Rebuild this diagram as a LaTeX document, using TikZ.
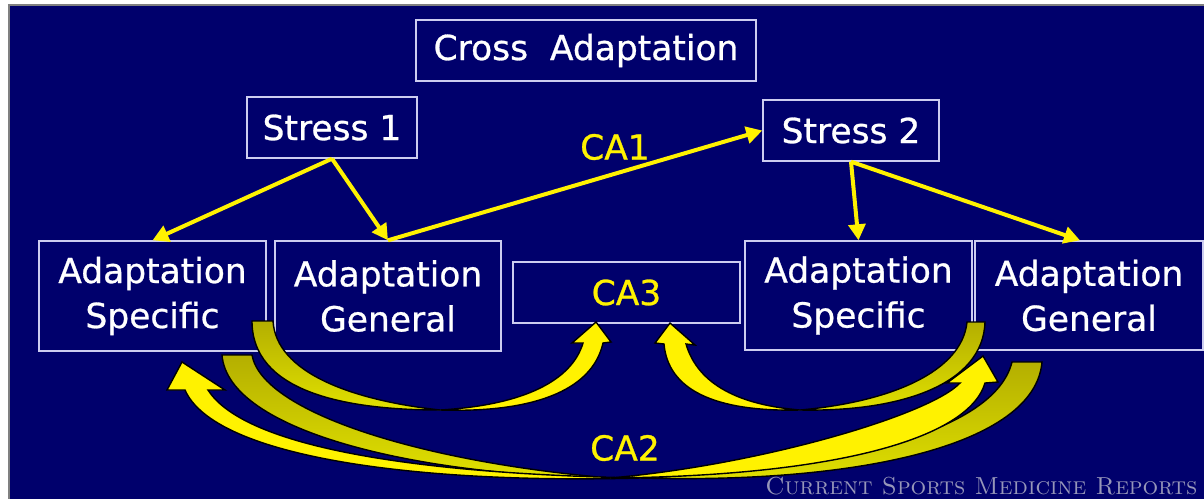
\documentclass[tikz,border=0pt]{standalone}
\usepackage{fontspec}
\newfontfamily\slidefont[FakeBold=0.8]{DejaVu Sans}
\usetikzlibrary{arrows.meta}
\definecolor{slideblue}{RGB}{0,0,108}
\definecolor{boxline}{RGB}{205,205,240}
\definecolor{tailolive}{RGB}{180,175,0}
\definecolor{marktext}{RGB}{150,150,185}
\tikzset{>={Triangle[length=4mm,width=4.2mm]}}
\tikzset{
	box/.style={draw=boxline, line width=0.35mm, text=white, align=center, inner sep=0pt, font=\slidefont\fontsize{24.5}{32}\selectfont},
	calabel/.style={text=yellow, font=\slidefont\fontsize{24.5}{32}\selectfont},
	link/.style={->, draw=yellow, line width=1mm},
	tailpart/.style={draw=black, line width=0.35mm, top color=tailolive, bottom color=yellow!88!black},
	headpart/.style={draw=black, line width=0.35mm, fill=yellow}
}

\begin{document}
\begin{tikzpicture}[x=0.25mm, y=-0.25mm]
		\useasboundingbox (0,0) rectangle (1204,498);
		\clip (0,0) rectangle (1204,498);
		\fill[white] (0,0) rectangle (1204,498);
		\draw[gray, line width=0.5mm, fill=slideblue] (9,5) rectangle (1212,506);
		\node[box, minimum width=85mm, minimum height=15.25mm] (CA) at (586,50.5) {Cross\ \ Adaptation};
		\node[box, minimum width=42.5mm, minimum height=15.25mm] (S1) at (332,127.5) {Stress 1};
		\node[box, minimum width=44mm, minimum height=15.25mm] (S2) at (851,130.5) {Stress 2};
		\node[box, minimum width=56.75mm, minimum height=27.5mm] (AS1) at (152.5,296) {Adaptation\\Specific};
		\node[box, minimum width=56.5mm, minimum height=27.5mm] (AG1) at (388,296) {Adaptation\\General};
		\node[box, minimum width=56.75mm, minimum height=27.25mm] (AS2) at (858.5,295.5) {Adaptation\\Specific};
		\node[box, minimum width=57mm, minimum height=27.25mm] (AG2) at (1089,295.5) {Adaptation\\General};
		\node[box, text=yellow, minimum width=56.75mm, minimum height=15.25mm] (CA3) at (626.5,292.5) {CA3};
		\node[calabel] (CA1) at (615,147) {CA1};
		\node[calabel] (CA2) at (625,448) {CA2};
		\draw[link] (S1.south)--(AS1.north); \draw[link] (S1.south)--(AG1.north);
		\draw[link] (AG1.north)--(S2.west);
		\draw[link] (S2.south)--(AS2.north); \draw[link] (S2.south)--([xshift=-2.25mm]AG2.north);
		\draw[tailpart] (222,355) -- (252,355) .. controls (262,412) and (420,462) .. (610,478) .. controls (420,476) and (228,432) .. (222,355) -- cycle;
		\draw[headpart] (640,478) .. controls (420,474) and (245,448) .. (208,390) -- (225,390) -- (182,362) -- (167,390) -- (185,390) .. controls (215,458) and (420,484) .. (640,478) -- cycle;
		\draw[tailpart] (1042,362) -- (1012,362) .. controls (995,430) and (850,468) .. (640,478) .. controls (860,484) and (1035,445) .. (1042,362) -- cycle;
		\draw[tailpart] (985,322) -- (967,322) .. controls (962,372) and (890,402) .. (800,410) .. controls (900,412) and (983,385) .. (985,322) -- cycle;
		\draw[headpart] (610,478) .. controls (760,465) and (930,415) .. (960,383) -- (947,383) -- (983,356) -- (998,382) -- (985,383) .. controls (968,440) and (830,476) .. (610,478) -- cycle;
		\draw[tailpart] (252,321) -- (273,321) .. controls (276,372) and (350,400) .. (440,410) .. controls (340,410) and (252,390) .. (252,321) -- cycle;
		\draw[headpart] (440,410) .. controls (525,405) and (572,380) .. (583,343) -- (572,343) -- (596,322) -- (611,342) -- (603,343) .. controls (592,392) and (530,413) .. (440,410) -- cycle;
		\draw[headpart] (800,410) .. controls (715,412) and (668,390) .. (664,344) -- (655,343) -- (670,323) -- (695,345) -- (686,344) .. controls (698,385) and (740,405) .. (800,410) -- cycle;
		\node[anchor=base west, text=marktext, font=\fontsize{17.5}{18}\selectfont\scshape\addfontfeature{LetterSpace=5}, inner sep=0pt] (mark) at (765,494) {Current Sports Medicine Reports};
\end{tikzpicture}
\end{document}
